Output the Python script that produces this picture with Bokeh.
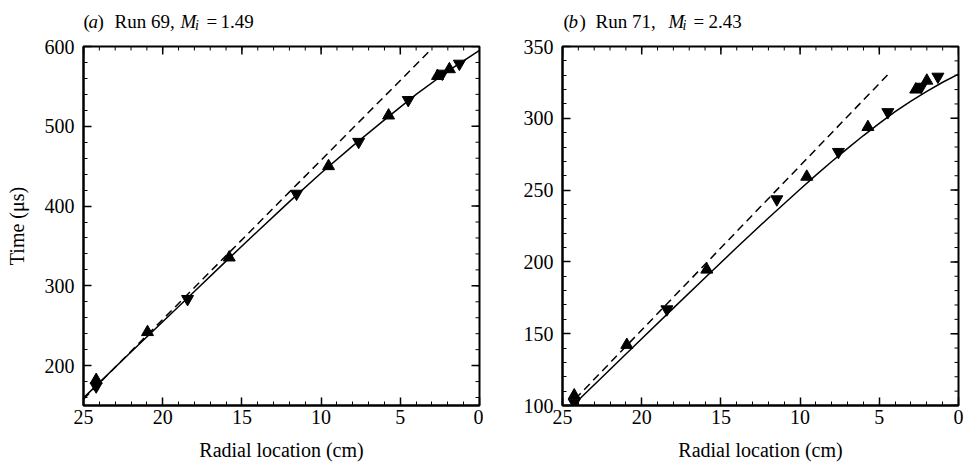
from bokeh.plotting import figure
from bokeh.models import Range1d, SingleIntervalTicker
from bokeh.layouts import row, column
from bokeh.core.properties import value
from bokeh.embed import file_html
from bokeh.resources import INLINE

# ---------------- data: (a) Run 69, Mi = 1.49 ----------------
a_up_x = [24.2, 20.96, 15.8, 9.53, 5.74, 2.65, 1.9]
a_up_t = [182, 242, 335.5, 450, 513.5, 563, 571.5]
a_dn_x = [24.2, 18.43, 11.55, 7.63, 4.5, 2.35, 1.27]
a_dn_t = [174, 283.5, 415.5, 480.5, 533, 566, 578.5]
a_solid_x = [25, 22, 20, 18, 16, 14, 12, 10, 8, 6, 4, 2, 0]
a_solid_t = [159.5, 217, 255, 293, 331, 368.5, 405.5, 441.5, 475.5, 508, 540, 569, 595]
a_dash_x = [25, 3.12]
a_dash_t = [158, 595]

# ---------------- data: (b) Run 71, Mi = 2.43 ----------------
b_up_x = [24.26, 20.94, 15.89, 9.58, 5.72, 2.7, 2.0]
b_up_t = [107, 142.2, 194.6, 259.3, 293.9, 320, 326.2]
b_dn_x = [24.26, 18.41, 11.47, 7.58, 4.46, 2.35, 1.3]
b_dn_t = [102, 167, 243.6, 276.6, 304.3, 322, 329]
b_solid_x = [24.3, 22, 20, 18, 16, 14, 12, 10, 9, 8, 7, 6, 5, 4, 3, 2, 1, 0]
b_solid_t = [100.5, 125.1, 146.5, 167.8, 189.0, 210.0, 230.6, 250.6, 260.4, 269.9,
             279.1, 288.0, 296.5, 304.6, 312.0, 318.8, 325.1, 330.8]
b_dash_x = [24.2, 4.45]
b_dash_t = [104.5, 330.5]

# ---------------- tick positions ----------------
x_major = [0, 5, 10, 15, 20, 25]
x_minor = list(range(0, 26))
a_y_major = [200, 300, 400, 500, 600]
a_y_minor = list(range(160, 601, 20))
b_y_major = [100, 150, 200, 250, 300, 350]
b_y_minor = list(range(100, 351, 10))

FONT = "Liberation Serif"
FS = "20px"
TFS = "19px"
FRAME_W = 396
FRAME_H = 361
MAJ = 8
MIN = 4
TITLE_H = 34


def style_axis(ax):
    ax.axis_line_width = 2
    ax.axis_line_color = "black"
    ax.major_tick_in = MAJ
    ax.major_tick_out = 0
    ax.minor_tick_in = MIN
    ax.minor_tick_out = 0
    ax.major_tick_line_width = 1.5
    ax.minor_tick_line_width = 1
    ax.major_label_text_font = FONT
    ax.major_label_text_font_size = FS
    ax.major_label_text_line_height = 1.0
    ax.axis_label_text_font = FONT
    ax.axis_label_text_font_style = "normal"
    ax.axis_label_text_font_size = FS
    ax.axis_label_text_line_height = 1.0
    ax.axis_label_text_color = "black"
    ax.major_label_text_color = "black"


def make_fig(width, bl, br, y0, y1, yint, ylabel, up_x, up_t, dn_x, dn_t,
             sx, st, dx, dt, y_major, y_minor):
    p = figure(width=width, height=463 - TITLE_H, output_backend="svg", toolbar_location=None,
               x_range=Range1d(25, 0), y_range=Range1d(y0, y1),
               min_border_left=bl, min_border_right=br, min_border_top=12,
               min_border_bottom=56, background_fill_color="white",
               border_fill_color="white")
    p.grid.visible = False
    p.outline_line_color = "black"
    p.outline_line_width = 2
    p.xaxis.ticker = SingleIntervalTicker(interval=5, num_minor_ticks=5)
    p.yaxis.ticker = SingleIntervalTicker(interval=yint, num_minor_ticks=5)
    style_axis(p.xaxis[0])
    style_axis(p.yaxis[0])
    p.xaxis.major_label_standoff = 4
    p.xaxis.axis_label = "Radial location (cm)"
    p.xaxis.axis_label_standoff = 12
    p.yaxis.major_label_standoff = 9
    if ylabel:
        p.yaxis.axis_label = ylabel
        p.yaxis.axis_label_standoff = 14

    # mirrored ticks on the top and right edges (lengths converted from pixels)
    dx_px = 25.0 / FRAME_W
    dy_px = (y1 - y0) / FRAME_H
    for ticks, ln, lw in ((x_minor, MIN, 1), (x_major, MAJ, 1.5)):
        p.segment(x0=ticks, y0=[y1] * len(ticks), x1=ticks,
                  y1=[y1 - ln * dy_px] * len(ticks), line_color="black", line_width=lw)
    for ticks, ln, lw in ((y_minor, MIN, 1), (y_major, MAJ, 1.5)):
        p.segment(x0=[0] * len(ticks), y0=ticks, x1=[ln * dx_px] * len(ticks),
                  y1=ticks, line_color="black", line_width=lw)

    p.line(dx, dt, line_color="black", line_width=1.5, line_dash="8 5")
    p.line(sx, st, line_color="black", line_width=1.5)
    p.scatter(up_x, up_t, marker="triangle", size=12, fill_color="black", line_color="black")
    p.scatter(dn_x, dn_t, marker="inverted_triangle", size=12, fill_color="black", line_color="black")
    return p


def make_title(width, bl, br, pieces):
    t = figure(width=width, height=TITLE_H, output_backend="svg", toolbar_location=None,
               x_range=Range1d(0, FRAME_W), y_range=Range1d(0, TITLE_H),
               x_axis_type=None, y_axis_type=None,
               min_border_left=bl, min_border_right=br, min_border_top=0,
               min_border_bottom=0, background_fill_color="white",
               border_fill_color="white")
    t.grid.visible = False
    t.outline_line_color = None
    for text, x, y, style, size in pieces:
        t.text(x=[x], y=[y], text=[text], text_font=value(FONT), text_font_size=size,
               text_font_style=style, text_color="black", text_baseline="middle",
               text_align="left")
    return t


# title pieces: (text, x from frame left (px), text middle height above title bottom (px), style, size)
ya = 13.5
ys = 8.7
a_title = [("(", 0, ya, "normal", TFS), ("a", 5, ya, "italic", TFS),
           (")", 14, ya, "normal", TFS), ("Run 69,", 31, ya, "normal", TFS),
           ("M", 97, ya, "italic", TFS), ("i", 111.5, ys, "italic", "14px"),
           ("=", 123, ya, "normal", TFS), ("1.49", 137, ya, "normal", TFS)]
b_title = [("(", 1, ya, "normal", TFS), ("b", 6, ya, "italic", TFS),
           (")", 17, ya, "normal", TFS), ("Run 71,", 33, ya, "normal", TFS),
           ("M", 106, ya, "italic", TFS), ("i", 120, ys, "italic", "14px"),
           ("=", 131, ya, "normal", TFS), ("2.43", 146, ya, "normal", TFS)]

p1 = make_fig(483, 83, 4, 150, 600, 100, "Time (μs)", a_up_x, a_up_t, a_dn_x, a_dn_t,
              a_solid_x, a_solid_t, a_dash_x, a_dash_t, a_y_major, a_y_minor)
p2 = make_fig(483, 79, 8, 100, 350, 50, None, b_up_x, b_up_t, b_dn_x, b_dn_t,
              b_solid_x, b_solid_t, b_dash_x, b_dash_t, b_y_major, b_y_minor)
t1 = make_title(483, 83, 4, a_title)
t2 = make_title(483, 79, 8, b_title)

layout = column(row(t1, t2), row(p1, p2))
open("out.html", "w").write(file_html(layout, INLINE))
